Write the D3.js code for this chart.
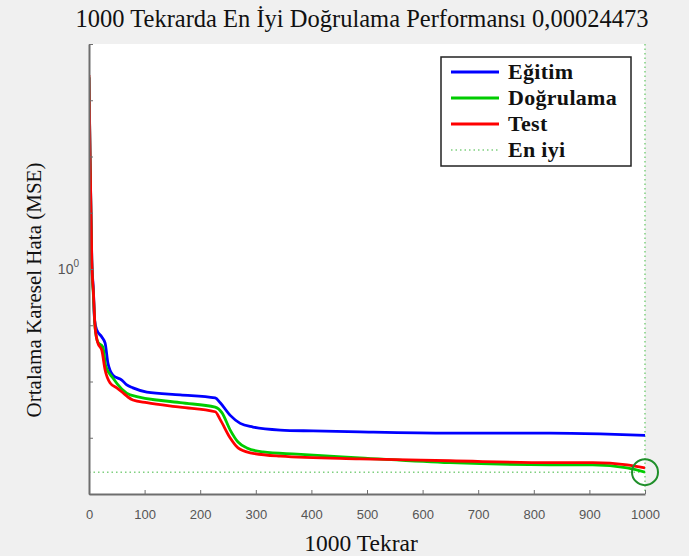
<!DOCTYPE html>
<html>
<head>
<meta charset="utf-8">
<script src="https://cdn.jsdelivr.net/npm/d3@7"></script>
<style>
  body { margin: 0; background: #f0f0f0; }
  .tickText { font-family: "Liberation Sans", Arial, sans-serif; font-size: 13px; fill: #555; }
  .serif { font-family: "Liberation Serif", "Times New Roman", serif; fill: #111; }
</style>
</head>
<body>
<div id="chart"></div>
<script>
// Eğitim (train) MSE per epoch
const trainEpochs = [0, 2, 5, 8, 10, 14, 23, 29, 34, 43, 59, 68, 79, 104, 164, 227, 236, 254, 272, 295, 344, 403, 487, 649, 829, 919, 1000];
const trainMSE = [2500, 80, 1.5, 0.4, 0.124, 0.082, 0.062, 0.048, 0.0213, 0.013, 0.0106, 0.0087, 0.0077, 0.0065, 0.0058, 0.0051, 0.0042, 0.0025, 0.0018, 0.00155, 0.00137, 0.00132, 0.00127, 0.00121, 0.00121, 0.00117, 0.0011];

// Doğrulama (validation)
const valEpochs = [0, 2, 5, 8, 11, 16, 25, 30, 43, 74, 164, 227, 239, 254, 268, 284, 313, 374, 487, 649, 829, 906, 968, 1000];
const valMSE = [2600, 80, 1.3, 0.33, 0.09, 0.05, 0.041, 0.019, 0.0115, 0.0058, 0.0042, 0.0035, 0.0028, 0.00137, 0.00084, 0.00066, 0.00056, 0.00051, 0.00044, 0.00036, 0.00033, 0.00033, 0.00029, 0.00024473];

// Test
const testEpochs = [0, 2, 5, 8, 11, 16, 23, 29, 38, 50, 61, 70, 79, 104, 164, 227, 236, 254, 268, 290, 344, 487, 649, 829, 906, 968, 1000];
const testMSE = [2800, 87, 1.45, 0.37, 0.093, 0.048, 0.036, 0.016, 0.0094, 0.0077, 0.0063, 0.0053, 0.0047, 0.0042, 0.0035, 0.0029, 0.0021, 0.00099, 0.00066, 0.00054, 0.00047, 0.00042, 0.00039, 0.00036, 0.00036, 0.00033, 0.00029];

const bestEpoch = 1000;
const bestPerf = 0.00024473;

const xTicks = [0, 100, 200, 300, 400, 500, 600, 700, 800, 900, 1000];
const yTicks = [1e-4, 1e-3, 1e-2, 1e-1, 1, 1e1, 1e2, 1e3, 1e4];

const legendLabels = ['Eğitim', 'Doğrulama', 'Test', 'En iyi'];

const titleText = '1000 Tekrarda En İyi Doğrulama Performansı 0,00024473';
const xLabel = '1000 Tekrar';
const yLabel = 'Ortalama Karesel Hata (MSE)';

const width = 689, height = 556;
const margin = {top: 44, right: 44, bottom: 62, left: 89};

const svg = d3.select('#chart').append('svg')
    .attr('width', width)
    .attr('height', height)
    .style('display', 'block');

svg.append('rect').attr('width', width).attr('height', height).attr('fill', '#f0f0f0');

const x = d3.scaleLinear().domain([0, 1000]).range([margin.left, width - margin.right]);
const y = d3.scaleLog().domain([1e-4, 1e4]).range([height - margin.bottom, margin.top]);

// plot area
svg.append('rect')
    .attr('x', x(0)).attr('y', y(1e4))
    .attr('width', x(1000) - x(0)).attr('height', y(1e-4) - y(1e4))
    .attr('fill', '#fff');

svg.append('clipPath').attr('id', 'clip')
  .append('rect')
    .attr('x', x(0)).attr('y', y(1e4))
    .attr('width', x(1000) - x(0)).attr('height', y(1e-4) - y(1e4));

// best lines (dotted)
const bestColor = '#7fcf7f';
svg.append('line')
    .attr('x1', x(0)).attr('x2', x(1000))
    .attr('y1', y(bestPerf)).attr('y2', y(bestPerf))
    .attr('stroke', bestColor).attr('stroke-width', 1.5).attr('stroke-dasharray', '1.5,3');
svg.append('line')
    .attr('x1', x(bestEpoch)).attr('x2', x(bestEpoch))
    .attr('y1', y(1e4)).attr('y2', y(1e-4))
    .attr('stroke', bestColor).attr('stroke-width', 1.5).attr('stroke-dasharray', '1.5,3');

const series = [
    {epochs: trainEpochs, values: trainMSE, color: '#0000ff'},
    {epochs: valEpochs, values: valMSE, color: '#00cc00'},
    {epochs: testEpochs, values: testMSE, color: '#ff0000'}
];

const line = d3.line()
    .x(d => x(d[0]))
    .y(d => y(d[1]))
    .curve(d3.curveMonotoneX);

const plot = svg.append('g').attr('clip-path', 'url(#clip)');
series.forEach(s => {
    plot.append('path')
        .datum(d3.zip(s.epochs, s.values))
        .attr('d', line)
        .attr('fill', 'none')
        .attr('stroke', s.color)
        .attr('stroke-width', 2.8)
        .attr('stroke-linejoin', 'round');
});

// best marker circle
svg.append('circle')
    .attr('cx', x(bestEpoch)).attr('cy', y(bestPerf))
    .attr('r', 13)
    .attr('fill', 'none')
    .attr('stroke', '#1f8f2a')
    .attr('stroke-width', 2);

// axes
const xAxis = d3.axisBottom(x).tickValues(xTicks).tickSizeInner(-4).tickSizeOuter(0)
    .tickPadding(16).tickFormat(d3.format('d'));
const gx = svg.append('g')
    .attr('transform', `translate(0,${y(1e-4)})`)
    .call(xAxis);
gx.select('.domain').attr('stroke', '#6e6e6e').attr('stroke-width', 2);
gx.selectAll('.tick line').attr('stroke', '#6e6e6e');
gx.selectAll('.tick text').attr('class', 'tickText');

const yAxis = d3.axisLeft(y).tickValues(yTicks).tickSizeInner(-4).tickSizeOuter(0).tickFormat(() => '');
const gy = svg.append('g')
    .attr('transform', `translate(${x(0)},0)`)
    .call(yAxis);
gy.select('.domain').attr('stroke', '#6e6e6e').attr('stroke-width', 2);
gy.selectAll('.tick line').attr('stroke', '#6e6e6e');

// only the 10^0 label is shown
const lab = svg.append('text')
    .attr('class', 'tickText')
    .attr('x', x(0) - 10)
    .attr('y', y(1) + 5)
    .attr('text-anchor', 'end')
    .style('font-size', '14px');
lab.append('tspan').text('10');
lab.append('tspan').attr('dy', -7).style('font-size', '10px').text('0');

// title and labels
svg.append('text')
    .attr('class', 'serif')
    .attr('x', 362).attr('y', 27)
    .attr('text-anchor', 'middle')
    .style('font-size', '24.5px')
    .text(titleText);

svg.append('text')
    .attr('class', 'serif')
    .attr('x', 361).attr('y', 551)
    .attr('text-anchor', 'middle')
    .style('font-size', '23.5px')
    .text(xLabel);

svg.append('text')
    .attr('class', 'serif')
    .attr('transform', `translate(41,290) rotate(-90)`)
    .attr('text-anchor', 'middle')
    .style('font-size', '21px')
    .text(yLabel);

// legend
const legend = svg.append('g');
legend.append('rect')
    .attr('x', 441).attr('y', 57)
    .attr('width', 190).attr('height', 109)
    .attr('fill', '#fff')
    .attr('stroke', '#222')
    .attr('stroke-width', 1.5);

const legendColors = ['#0000ff', '#00cc00', '#ff0000', bestColor];
legendLabels.forEach((name, i) => {
    const ly = 72 + i * 26;
    const ln = legend.append('line')
        .attr('x1', 451).attr('x2', 499)
        .attr('y1', ly).attr('y2', ly)
        .attr('stroke', legendColors[i]);
    if (i === 3) ln.attr('stroke-width', 1.5).attr('stroke-dasharray', '1.5,3');
    else ln.attr('stroke-width', 2.8);
    legend.append('text')
        .attr('class', 'serif')
        .attr('x', 508).attr('y', ly + 7)
        .style('font-size', '22px')
        .style('font-weight', 'bold')
        .style('letter-spacing', '0.3px')
        .text(name);
});
</script>
</body>
</html>
